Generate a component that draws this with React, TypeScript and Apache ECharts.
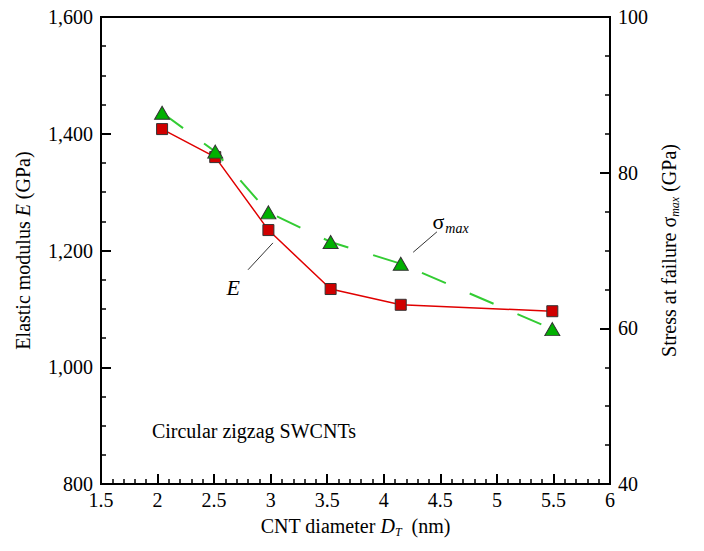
import React, { useEffect, useRef } from "react";
import * as echarts from "echarts";

// CNT diameter D_T (nm)
const diameters = [2.04, 2.51, 2.98, 3.53, 4.15, 5.49];
// Elastic modulus E (GPa) - left axis
const elasticModulus = [1408, 1360, 1235, 1134, 1107, 1096];
// Stress at failure sigma_max (GPa) - right axis
const stressAtFailure = [87.7, 82.7, 74.9, 71.1, 68.3, 59.9];

// annotation anchors in data coordinates (x, left-axis y)
const annoEText = [2.67, 1136];
const annoELine = [[2.8, 1167], [3.02, 1213]];
const annoSigmaText = [4.43, 1249];
const annoSigmaLine = [[4.26, 1197], [4.47, 1232]];
const noteText = "Circular zigzag SWCNTs";
const noteAnchor = [1.95, 890];

const FONT = '"Liberation Serif", "Times New Roman", serif';

export default function App() {
  const ref = useRef<HTMLDivElement>(null);
  useEffect(() => {
    document.body.style.margin = "0";
    const chart = echarts.init(ref.current!, null, { renderer: "svg" });
    const axisCommon = {
      axisLine: { show: true, lineStyle: { color: "#000", width: 2 } },
      axisTick: { show: true, inside: true, length: 10, lineStyle: { color: "#000", width: 2 } },
      minorTick: { show: true, length: 5, lineStyle: { color: "#000", width: 1.5 } },
      splitLine: { show: false },
      minorSplitLine: { show: false },
      axisLabel: { color: "#000", fontSize: 20, fontFamily: FONT, margin: 8 },
      nameTextStyle: { color: "#000", fontSize: 20, fontFamily: FONT },
    };
    const option: any = {
      animation: false,
      backgroundColor: "#fff",
      grid: {
        left: 101,
        top: 17,
        right: 94,
        bottom: 67,
        show: true,
        borderColor: "#000",
        borderWidth: 2,
        backgroundColor: "transparent",
      },
      xAxis: {
        type: "value",
        min: 1.5,
        max: 6,
        interval: 0.5,
        ...axisCommon,
        minorTick: { ...axisCommon.minorTick, splitNumber: 5 },
        axisLabel: { ...axisCommon.axisLabel, margin: 6 },
        name: "CNT diameter {i|D}{sub|T}  (nm)",
        nameLocation: "middle",
        nameGap: 30,
        nameTextStyle: {
          ...axisCommon.nameTextStyle,
          rich: {
            i: { fontStyle: "italic", fontSize: 20, fontFamily: FONT, color: "#000" },
            sub: { fontStyle: "italic", fontSize: 12, fontFamily: FONT, color: "#000", padding: [12, 0, 0, 0] },
          },
        },
      },
      yAxis: [
        {
          type: "value",
          position: "left",
          min: 800,
          max: 1600,
          interval: 200,
          ...axisCommon,
          minorTick: { ...axisCommon.minorTick, splitNumber: 4 },
          name: "Elastic modulus {i|E} (GPa)",
          nameLocation: "middle",
          nameRotate: 90,
          nameGap: 68,
          nameTextStyle: {
            ...axisCommon.nameTextStyle,
            rich: {
              i: { fontStyle: "italic", fontSize: 20, fontFamily: FONT, color: "#000" },
            },
          },
        },
        {
          type: "value",
          position: "right",
          min: 40,
          max: 100,
          interval: 20,
          ...axisCommon,
          minorTick: { ...axisCommon.minorTick, splitNumber: 4 },
          name: "Stress at failure σ{sub|max} (GPa)",
          nameLocation: "middle",
          nameRotate: 90,
          nameGap: 46,
          nameTextStyle: {
            ...axisCommon.nameTextStyle,
            rich: {
              sub: { fontStyle: "italic", fontSize: 12, fontFamily: FONT, color: "#000", padding: [12, 0, 0, 0] },
            },
          },
        },
      ],
      series: [
        {
          name: "E",
          type: "line",
          yAxisIndex: 0,
          data: diameters.map((d, i) => [d, elasticModulus[i]]),
          symbol: "rect",
          symbolSize: 11,
          lineStyle: { color: "#e00000", width: 1.5 },
          itemStyle: { color: "#d00000", borderColor: "#333", borderWidth: 1 },
          z: 3,
        },
        {
          name: "sigma_max",
          type: "line",
          yAxisIndex: 1,
          data: diameters.map((d, i) => [d, stressAtFailure[i]]),
          symbol: "triangle",
          symbolSize: [15, 13],
          lineStyle: { color: "#33cc33", width: 2, type: [26, 26] },
          itemStyle: { color: "#00b000", borderColor: "#333", borderWidth: 1 },
          z: 4,
        },
      ],
    };
    chart.setOption(option);
    const px = (c: number[]) => chart.convertToPixel({ xAxisIndex: 0, yAxisIndex: 0 }, c) as number[];
    const eT = px(annoEText);
    const eL1 = px(annoELine[0]);
    const eL2 = px(annoELine[1]);
    const sT = px(annoSigmaText);
    const sL1 = px(annoSigmaLine[0]);
    const sL2 = px(annoSigmaLine[1]);
    const nT = px(noteAnchor);
    chart.setOption({
      graphic: [
        {
          type: "text",
          x: eT[0],
          y: eT[1],
          style: { text: "E", fontSize: 22, fontStyle: "italic", fontFamily: FONT, fill: "#000", align: "center", verticalAlign: "middle" },
        },
        {
          type: "line",
          shape: { x1: eL1[0], y1: eL1[1], x2: eL2[0], y2: eL2[1] },
          style: { stroke: "#333", lineWidth: 1 },
        },
        {
          type: "text",
          x: sT[0],
          y: sT[1],
          style: {
            text: "{s|σ}{m|max}",
            fill: "#000",
            align: "left",
            verticalAlign: "middle",
            rich: {
              s: { fontSize: 22, fontFamily: FONT, fill: "#000" },
              m: { fontSize: 14, fontStyle: "italic", fontFamily: FONT, fill: "#000", padding: [14, 0, 0, 1] },
            },
          },
        },
        {
          type: "line",
          shape: { x1: sL1[0], y1: sL1[1], x2: sL2[0], y2: sL2[1] },
          style: { stroke: "#333", lineWidth: 1 },
        },
        {
          type: "text",
          x: nT[0],
          y: nT[1],
          style: { text: noteText, fontSize: 20, fontFamily: FONT, fill: "#000", align: "left", verticalAlign: "middle" },
        },
      ],
    });
    return () => chart.dispose();
  }, []);
  return <div ref={ref} style={{ width: 704, height: 551 }} />;
}
